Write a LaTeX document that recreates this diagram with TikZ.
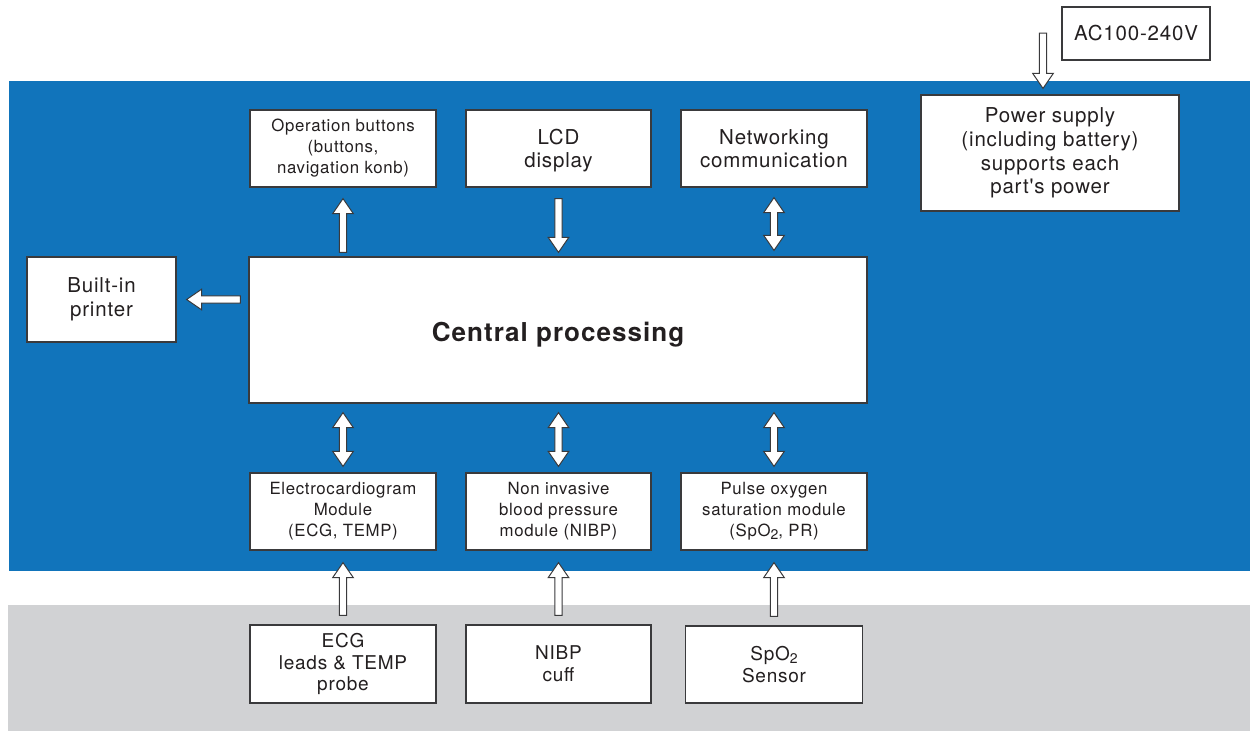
\documentclass[tikz,border=0pt]{standalone}
\usepackage{fontspec}
\setmainfont{TeX Gyre Heros}[LetterSpace=4, Ligatures=TeXOff]
\usetikzlibrary{calc}
\definecolor{bgblue}{HTML}{1174BB}
\definecolor{bggray}{HTML}{D1D2D4}
\definecolor{txt}{HTML}{231F20}
\definecolor{boxline}{HTML}{3A3A3C}
\tikzset{
  box/.style={draw=boxline, fill=white, line width=1.2pt, inner sep=0pt, align=center, text=txt},
  smalltxt/.style={font=\fontsize{16.8}{21}\selectfont},
  medtxt/.style={font=\fontsize{20.5}{23.6}\selectfont},
  lowtxt/.style={font=\fontsize{19}{21.6}\selectfont},
  blockarrow/.style={draw=boxline, fill=white, line width=1pt, line join=miter}
}
\newcommand\subtwo{\raisebox{-3pt}{\fontsize{14}{14}\selectfont 2}}
% single vertical block arrow: #1 tail edge point, #2 tip edge point, #3 tail gap, #4 tip gap
\newcommand\sarrowV[4]{%
\draw[blockarrow] let \p1=(#1), \p2=(#2), \n1={sign(\y2-\y1)}, \n2={\y1+\n1*#3}, \n3={\y2-\n1*#4}, \n4={\n3-\n1*15} in
({\x1-3.7pt},{\n2*1pt}) -- ({\x1-3.7pt},{\n4*1pt}) -- ({\x1-10.3pt},{\n4*1pt}) -- ({\x1},{\n3*1pt}) -- ({\x1+10.3pt},{\n4*1pt}) -- ({\x1+3.7pt},{\n4*1pt}) -- ({\x1+3.7pt},{\n2*1pt}) -- cycle;}
% double vertical block arrow
\newcommand\darrowV[4]{%
\draw[blockarrow] let \p1=(#1), \p2=(#2), \n1={sign(\y2-\y1)}, \n2={\y1+\n1*#3}, \n3={\y2-\n1*#4}, \n4={\n2+\n1*15}, \n5={\n3-\n1*15} in
({\x1-3.7pt},{\n4*1pt}) -- ({\x1-10.3pt},{\n4*1pt}) -- ({\x1},{\n2*1pt}) -- ({\x1+10.3pt},{\n4*1pt}) -- ({\x1+3.7pt},{\n4*1pt}) -- ({\x1+3.7pt},{\n5*1pt}) -- ({\x1+10.3pt},{\n5*1pt}) -- ({\x1},{\n3*1pt}) -- ({\x1-10.3pt},{\n5*1pt}) -- ({\x1-3.7pt},{\n5*1pt}) -- cycle;}
% single horizontal block arrow
\newcommand\sarrowH[4]{%
\draw[blockarrow] let \p1=(#1), \p2=(#2), \n1={sign(\x2-\x1)}, \n2={\x1+\n1*#3}, \n3={\x2-\n1*#4}, \n4={\n3-\n1*15} in
({\n2*1pt},{\y1-3.7pt}) -- ({\n4*1pt},{\y1-3.7pt}) -- ({\n4*1pt},{\y1-10.3pt}) -- ({\n3*1pt},{\y1}) -- ({\n4*1pt},{\y1+10.3pt}) -- ({\n4*1pt},{\y1+3.7pt}) -- ({\n2*1pt},{\y1+3.7pt}) -- cycle;}
\begin{document}
\begin{tikzpicture}[x=1pt,y=-1pt]
\useasboundingbox (0,0) rectangle (1250,731);
\fill[white] (0,0) rectangle (1250,731);
% background bands
\fill[bgblue] (9,81) rectangle (1250,571);
\fill[bggray] (8,605) rectangle (1250,731);

% top row
\node[box, smalltxt, minimum width=186, minimum height=77] (opb) at (343,148.5) {Operation buttons\\(buttons,\\navigation konb)};
\node[box, medtxt, minimum width=185, minimum height=77] (lcd) at (558.5,148.5) {\raisebox{-2pt}[\height][\depth]{LCD}\\\raisebox{-2pt}[\height][\depth]{display}};
\node[box, medtxt, minimum width=186, minimum height=77] (net) at (774,148.5) {Networking\\communication};
\node[box, medtxt, minimum width=258, minimum height=116] (pwr) at (1050,153) {Power supply\\(including battery)\\supports each\\part's power};
\node[box, medtxt, minimum width=148, minimum height=53] (ac) at (1136,33.5) {AC100-240V};

% middle
\node[box, medtxt, minimum width=149, minimum height=85] (prt) at (101.5,299.5) {Built-in\\printer};
\node[box, font=\bfseries\fontsize{26}{30}\selectfont, minimum width=618, minimum height=146] (cpu) at (558,330) {\raisebox{-5pt}[\height][\depth]{Central processing}};

% modules
\node[box, smalltxt, minimum width=186, minimum height=77] (ecg) at (343,511.5) {Electrocardiogram\\Module\\(ECG, TEMP)};
\node[box, smalltxt, minimum width=185, minimum height=77] (nibpm) at (558.5,511.5) {Non invasive\\blood pressure\\module (NIBP)};
\node[box, smalltxt, minimum width=186, minimum height=77] (spom) at (774,511.5) {Pulse oxygen\\saturation module\\(SpO\subtwo, PR)};

% sensors
\node[box, lowtxt, minimum width=186, minimum height=78] (leads) at (343,664) {ECG\\leads \& TEMP\\probe};
\node[box, lowtxt, minimum width=185, minimum height=78] (cuff) at (558.5,664) {NIBP\\cuff};
\node[box, lowtxt, minimum width=177, minimum height=77] (sensor) at (774,664.5) {SpO\subtwo\\Sensor};

% power input
\coordinate (acin) at (1043,33);
\coordinate (pwrtop) at (pwr.north -| acin);

% connectors
\sarrowV{opb.south |- cpu.north}{opb.south}{4}{11}
\sarrowV{lcd.south}{lcd.south |- cpu.north}{11}{4}
\darrowV{net.south}{net.south |- cpu.north}{10}{6}
\sarrowH{prt.east -| cpu.west}{prt.east}{8}{10}
\darrowV{ecg.north |- cpu.south}{ecg.north}{9}{6}
\darrowV{nibpm.north |- cpu.south}{nibpm.north}{9}{6}
\darrowV{spom.north |- cpu.south}{spom.north}{9}{6}
\sarrowV{leads.north}{ecg.south}{9}{12}
\sarrowV{cuff.north}{nibpm.south}{9}{12}
\sarrowV{sensor.north}{spom.south}{9}{12}
\sarrowV{acin}{pwrtop}{0}{6}
\end{tikzpicture}
\end{document}
